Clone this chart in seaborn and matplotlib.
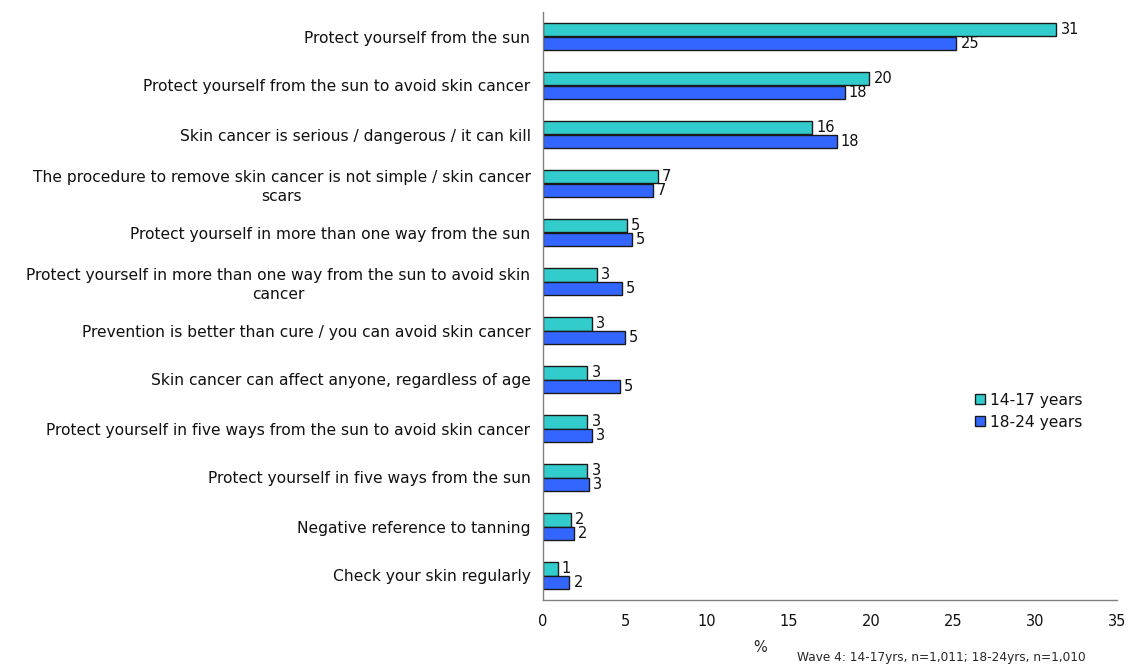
import matplotlib
matplotlib.use("Agg")
import matplotlib.pyplot as plt
from matplotlib.patches import Patch
from matplotlib.ticker import FixedLocator
import numpy as np
import pandas as pd
import seaborn as sns

# Campaign messages recalled, by age group (% of respondents)
categories = [
    "Protect yourself from the sun",
    "Protect yourself from the sun to avoid skin cancer",
    "Skin cancer is serious / dangerous / it can kill",
    "The procedure to remove skin cancer is not simple / skin cancer\nscars",
    "Protect yourself in more than one way from the sun",
    "Protect yourself in more than one way from the sun to avoid skin\ncancer",
    "Prevention is better than cure / you can avoid skin cancer",
    "Skin cancer can affect anyone, regardless of age",
    "Protect yourself in five ways from the sun to avoid skin cancer",
    "Protect yourself in five ways from the sun",
    "Negative reference to tanning",
    "Check your skin regularly",
]
age_14_17 = [31.3, 19.9, 16.4, 7.0, 5.1, 3.3, 3.0, 2.7, 2.7, 2.7, 1.7, 0.9]
age_18_24 = [25.2, 18.4, 17.9, 6.7, 5.4, 4.8, 5.0, 4.7, 3.0, 2.8, 1.9, 1.6]
groups = ["14-17 years", "18-24 years"]
x_ticks = [0, 5, 10, 15, 20, 25, 30, 35]
x_label = "%"
footnote = "Wave 4: 14-17yrs, n=1,011; 18-24yrs, n=1,010"

colors = {"14-17 years": "#33CCCC", "18-24 years": "#3366FF"}

df = pd.DataFrame({
    "message": categories * 2,
    "value": age_14_17 + age_18_24,
    "group": [groups[0]] * len(categories) + [groups[1]] * len(categories),
})

sns.set_style("white")
plt.rcParams["font.family"] = ["DejaVu Sans"]

fig = plt.figure(figsize=(11.31, 6.64), dpi=100)
ax = fig.add_axes([543 / 1131, 1 - 600 / 664, (1117 - 543) / 1131, (600 - 12) / 664])

sns.barplot(
    data=df, y="message", x="value", hue="group", orient="h",
    palette=colors, hue_order=groups, order=categories,
    width=0.57, edgecolor="#1a1a1a", linewidth=1, legend=False, ax=ax,
    saturation=1,
)

for cont in ax.containers:
    ax.bar_label(cont, fmt="%.0f", padding=3, fontsize=10.5, color="#111111")

ax.set_xlim(0, 35)
ax.set_ylim(len(categories) - 0.5, -0.5)
ax.xaxis.set_major_locator(FixedLocator(x_ticks))
ax.set_xticklabels([str(t) for t in x_ticks])
ax.set_xlabel("")
ax.set_ylabel("")

# category labels without ticks, boundary ticks as minor ticks
ax.tick_params(axis="y", which="major", length=0, pad=9, labelsize=11.2, labelcolor="#111111")
ax.yaxis.set_minor_locator(FixedLocator(np.arange(-0.5, len(categories), 1.0)))
ax.tick_params(axis="y", which="minor", length=4, direction="out", color="#808080", width=1)
for lbl in ax.get_yticklabels():
    lbl.set_multialignment("center")
    lbl.set_linespacing(1.3)
ax.tick_params(axis="x", which="major", length=4, direction="in", pad=10,
               labelsize=10.5, color="#808080", width=1, labelcolor="#111111")

for side in ("top", "right"):
    ax.spines[side].set_visible(False)
for side in ("left", "bottom"):
    ax.spines[side].set_color("#808080")
    ax.spines[side].set_linewidth(1)

handles = [Patch(facecolor=colors[g], edgecolor="#1a1a1a", linewidth=1, label=g) for g in groups]
fig.legend(handles=handles, loc="center left", bbox_to_anchor=(969 / 1131, 1 - 411 / 664),
           frameon=False, fontsize=11.2, handlelength=0.65, handleheight=0.65,
           handletextpad=0.3, labelspacing=0.45, borderaxespad=0, labelcolor="#111111")

fig.text(760 / 1131, 1 - 647 / 664, x_label, ha="center", va="center", fontsize=10.5)
fig.text(797 / 1131, 1 - 657 / 664, footnote, ha="left", va="center", fontsize=8.7)

fig.savefig("out.png", dpi=100)
